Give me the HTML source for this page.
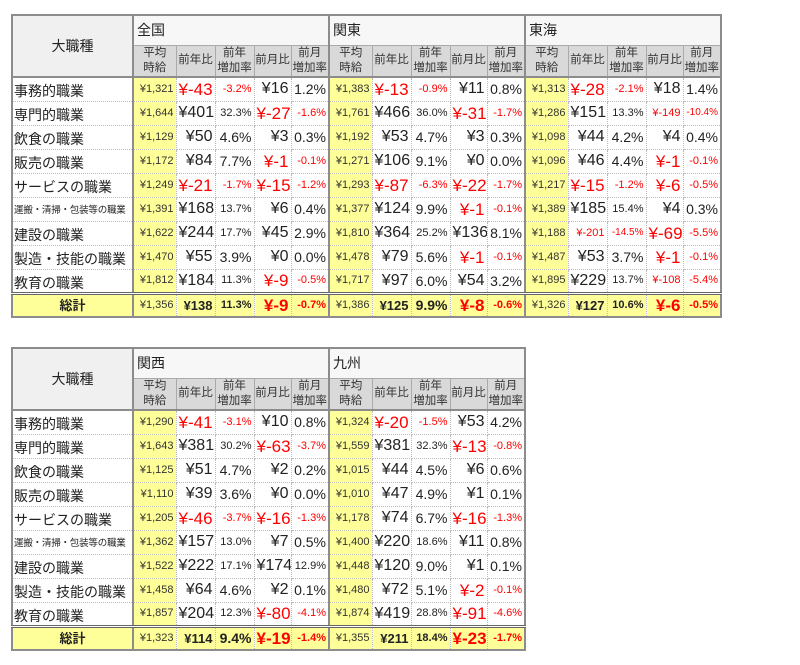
<!DOCTYPE html>
<html><head><meta charset="utf-8">
<style>
body{margin:0;background:#fff;width:800px;height:665px;position:relative;overflow:hidden;font-family:"Liberation Sans","Noto Sans CJK JP",sans-serif;}
table{position:absolute;left:11px;border-collapse:collapse;table-layout:fixed;border:2px solid #8c8c8c;}
#t1{width:709px;}
#t2{width:513px;}
td{padding:0 2px;white-space:nowrap;overflow:hidden;color:#222;border:1px dotted #bbb;text-align:right;line-height:1;}
td.name{text-align:left;font-size:14px;border-right:2px solid #8c8c8c;padding:4px 1px 0 1px;}
td.corner{text-align:center;font-size:14px;background:#f0f0f0;border-right:2px solid #8c8c8c;border-bottom:2px solid #8c8c8c;}
td.region{text-align:left;font-size:14px;background:#f7f7f7;border:1px solid #aaa;border-left:2px solid #8c8c8c;padding-left:3px;}
td.sub{text-align:center;font-size:11.5px;background:#d9d9d9;border:1px solid #aaa;border-bottom:2px solid #8c8c8c;line-height:15px;color:#333;padding:0;}
td.avg{background:#ffff99;font-size:11px;color:#333;border-left:2px solid #8c8c8c;}
td.neg{color:#ff0000;}
tr.total td{background:#ffff99;font-weight:bold;border-top:3px double #666;}
tr.total td.name{text-align:center;font-size:13px;padding:0;}
tr.total td.avg{font-weight:normal;}
</style></head><body>
<table id="t1" style="top:14px;"></table>
<table id="t2" style="top:347px;"></table>
<script>
const jobs=["事務的職業","専門的職業","飲食の職業","販売の職業","サービスの職業","運搬・清掃・包装等の職業","建設の職業","製造・技能の職業","教育の職業"];
const regionNames=["全国","関東","東海","関西","九州"];
// per region rows: [avg, yoyDiff, yoyRate, momDiff, momRate]; last row is total
const zenkoku=[["1,321",-43,"-3.2",16,"1.2"],["1,644",401,"32.3",-27,"-1.6"],["1,129",50,"4.6",3,"0.3"],["1,172",84,"7.7",-1,"-0.1"],["1,249",-21,"-1.7",-15,"-1.2"],["1,391",168,"13.7",6,"0.4"],["1,622",244,"17.7",45,"2.9"],["1,470",55,"3.9",0,"0.0"],["1,812",184,"11.3",-9,"-0.5"],["1,356",138,"11.3",-9,"-0.7"]];
const kanto=[["1,383",-13,"-0.9",11,"0.8"],["1,761",466,"36.0",-31,"-1.7"],["1,192",53,"4.7",3,"0.3"],["1,271",106,"9.1",0,"0.0"],["1,293",-87,"-6.3",-22,"-1.7"],["1,377",124,"9.9",-1,"-0.1"],["1,810",364,"25.2",136,"8.1"],["1,478",79,"5.6",-1,"-0.1"],["1,717",97,"6.0",54,"3.2"],["1,386",125,"9.9",-8,"-0.6"]];
const tokai=[["1,313",-28,"-2.1",18,"1.4"],["1,286",151,"13.3",-149,"-10.4"],["1,098",44,"4.2",4,"0.4"],["1,096",46,"4.4",-1,"-0.1"],["1,217",-15,"-1.2",-6,"-0.5"],["1,389",185,"15.4",4,"0.3"],["1,188",-201,"-14.5",-69,"-5.5"],["1,487",53,"3.7",-1,"-0.1"],["1,895",229,"13.7",-108,"-5.4"],["1,326",127,"10.6",-6,"-0.5"]];
const kansai=[["1,290",-41,"-3.1",10,"0.8"],["1,643",381,"30.2",-63,"-3.7"],["1,125",51,"4.7",2,"0.2"],["1,110",39,"3.6",0,"0.0"],["1,205",-46,"-3.7",-16,"-1.3"],["1,362",157,"13.0",7,"0.5"],["1,522",222,"17.1",174,"12.9"],["1,458",64,"4.6",2,"0.1"],["1,857",204,"12.3",-80,"-4.1"],["1,323",114,"9.4",-19,"-1.4"]];
const kyushu=[["1,324",-20,"-1.5",53,"4.2"],["1,559",381,"32.3",-13,"-0.8"],["1,015",44,"4.5",6,"0.6"],["1,010",47,"4.9",1,"0.1"],["1,178",74,"6.7",-16,"-1.3"],["1,400",220,"18.6",11,"0.8"],["1,448",120,"9.0",1,"0.1"],["1,480",72,"5.1",-2,"-0.1"],["1,874",419,"28.8",-91,"-4.6"],["1,355",211,"18.4",-23,"-1.7"]];
const subHeads=["平均<br>時給","前年比","前年<br>増加率","前月比","前月<br>増加率"];
const colW=[43,39,39,37,38];

function build(id,regions,datas){
  const t=document.getElementById(id);
  const cg=document.createElement('colgroup');
  let c=document.createElement('col');c.style.width='121px';cg.appendChild(c);
  regions.forEach(()=>colW.forEach(w=>{const cc=document.createElement('col');cc.style.width=w+'px';cg.appendChild(cc);}));
  t.appendChild(cg);
  let r1=t.insertRow();r1.style.height='30px';
  let corner=r1.insertCell();corner.className='corner';corner.rowSpan=2;corner.textContent='大職種';
  
  
  regions.forEach(rn=>{const cc=r1.insertCell();cc.className='region';cc.colSpan=5;cc.textContent=rn;
    
    });
  let r2=t.insertRow();r2.style.height='32px';
  regions.forEach(()=>subHeads.forEach((s,i)=>{const cc=r2.insertCell();cc.className='sub';cc.innerHTML=s;
    if(i==0)cc.style.borderLeft='2px solid #8c8c8c';
    
    }));
  for(let k=0;k<10;k++){
    const tot=k==9;
    const tr=t.insertRow();tr.style.height='24px';if(tot)tr.className='total';
    const nc=tr.insertCell();nc.className='name';nc.textContent=tot?'総計':jobs[k];
    if(k==5){nc.style.fontSize='9.5px';nc.style.letterSpacing='-0.2px';}
    
    
    datas.forEach(d=>{
      const row=d[k];
      const vals=['¥'+row[0],'¥'+row[1],row[2]+'%','¥'+row[3],row[4]+'%'];
      vals.forEach((v,i)=>{
        const cc=tr.insertCell();
        let fs;
        if(i==0){cc.className='avg';fs=11;}
        else{
          const neg=(i==1||i==3)?row[i]<0:String(row[i]).startsWith('-');
          if(neg)cc.className='neg';
          if(i==1||i==3)fs=v.length<=4?16:11;
          else fs=v.length<=4?14:11;
          if(neg&&v.length<=4&&(i==1||i==3))fs=17;
          if(tot&&i==1)fs=13;
          if(tot&&(i==2||i==4)&&v.length>4)fs=11;
          if(v.length>5)fs=10;
        }
        cc.style.fontSize=fs+'px';
        cc.textContent=v;
        
        
      });
    });
  }
}
build('t1',[regionNames[0],regionNames[1],regionNames[2]],[zenkoku,kanto,tokai]);
build('t2',[regionNames[3],regionNames[4]],[kansai,kyushu]);
</script>
</body></html>
